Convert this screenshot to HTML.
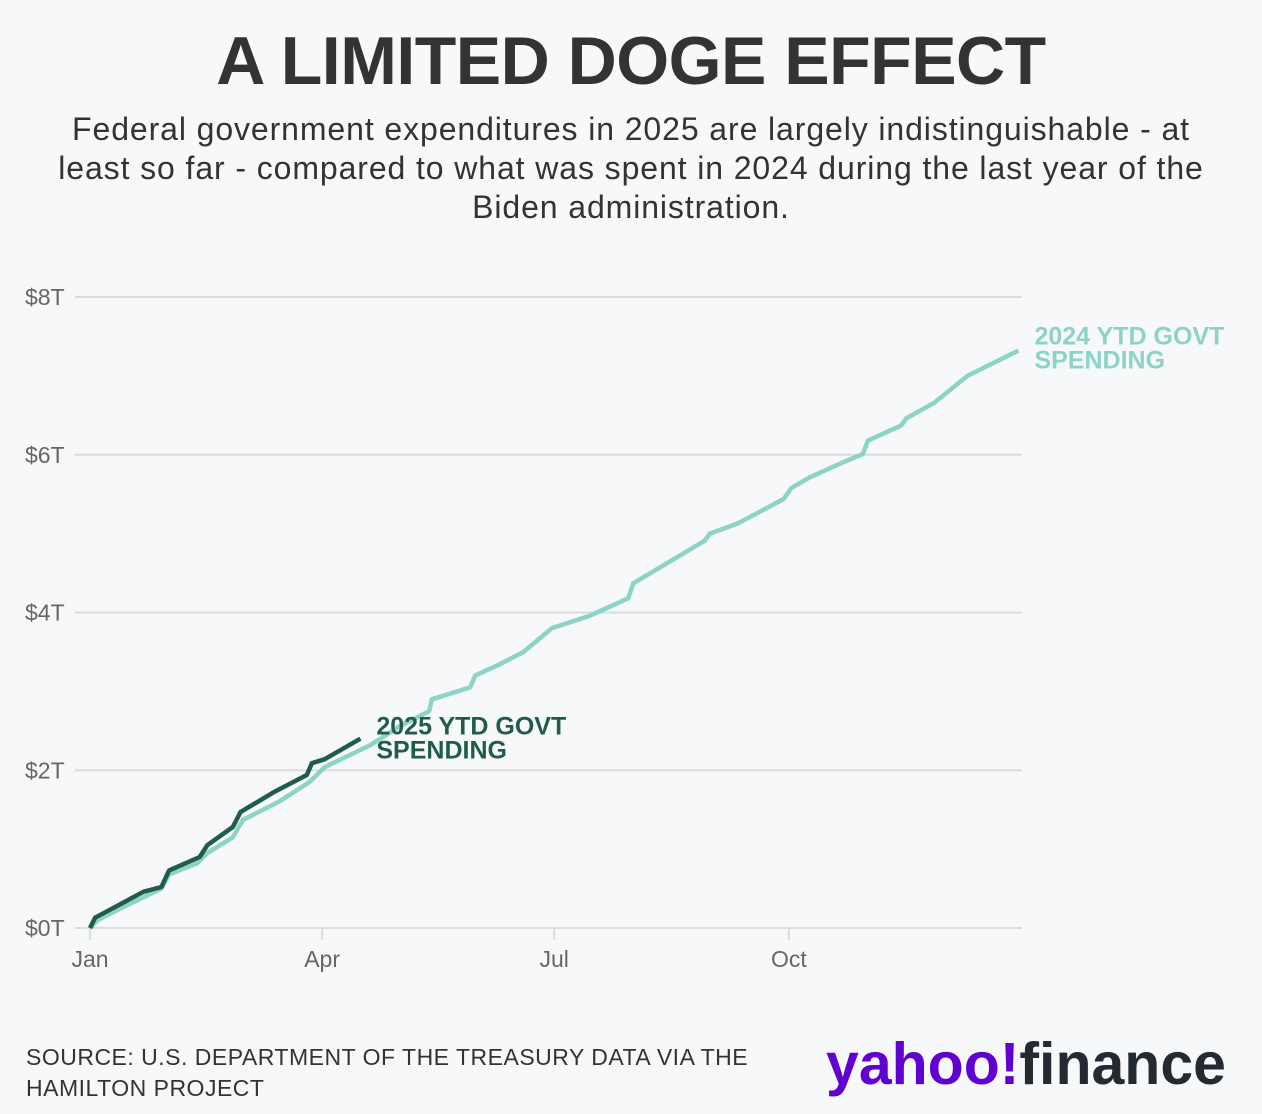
<!DOCTYPE html>
<html><head><meta charset="utf-8">
<style>
html,body{margin:0;padding:0;background:#f6f8fa;}
body{width:1262px;height:1114px;position:relative;overflow:hidden;font-family:"Liberation Sans",sans-serif;}
#title{position:absolute;left:0;width:1262px;top:22px;text-align:center;font-weight:bold;font-size:68px;color:#333;letter-spacing:-0.5px;}
#subtitle{position:absolute;left:46px;width:1170px;top:110px;text-align:center;font-size:32px;line-height:39px;color:#333;letter-spacing:0.9px;}
#source{position:absolute;left:26px;top:1042px;font-size:23px;line-height:31px;color:#333;letter-spacing:0.5px;}
#logo{position:absolute;left:826px;top:1030px;font-size:59px;font-weight:bold;letter-spacing:0px;}
svg{position:absolute;left:0;top:0;}
</style></head><body>
<div id="title">A LIMITED DOGE EFFECT</div>
<div id="subtitle">Federal government expenditures in 2025 are largely indistinguishable - at least so far - compared to what was spent in 2024 during the last year of the Biden administration.</div>
<div id="source">SOURCE: U.S. DEPARTMENT OF THE TREASURY DATA VIA THE<br>HAMILTON PROJECT</div>
<div id="logo"><span style="color:#6001d2">yahoo!</span><span style="color:#232a31">finance</span></div>
<svg id="chart" width="1262" height="1114"></svg>
<script>
const yTicks = [0, 2, 4, 6, 8];
const yTickLabels = ["$0T", "$2T", "$4T", "$6T", "$8T"];
const xTickDays = [0, 91, 182, 274];
const xTickLabels = ["Jan", "Apr", "Jul", "Oct"];
const days2024 = [0,3,14,28,31,42,46,56,60,74,86,92,110,121,133,134,149,151,161,170,181,196,211,213,226,241,243,254,272,275,282,295,303,305,318,320,331,344,364];
const vals2024 = [0,0.1,0.28,0.5,0.68,0.82,0.95,1.15,1.37,1.6,1.85,2.04,2.32,2.55,2.75,2.9,3.05,3.2,3.35,3.5,3.8,3.96,4.18,4.37,4.62,4.91,5.0,5.13,5.44,5.58,5.71,5.9,6.01,6.18,6.37,6.46,6.66,7.0,7.32];
const days2025 = [0,2,21,28,31,43,46,56,59,72,85,87,92,106];
const vals2025 = [0,0.13,0.46,0.52,0.73,0.9,1.05,1.28,1.47,1.72,1.94,2.09,2.14,2.4];

const NS = "http://www.w3.org/2000/svg";
const svg = document.getElementById("chart");
const x = d => 90 + d * (1021 - 90) / 365;
const y = v => 928 - v * (928 - 297) / 8;
function mk(tag, attrs){ const e = document.createElementNS(NS, tag); for (const k in attrs) e.setAttribute(k, attrs[k]); svg.appendChild(e); return e; }

yTicks.forEach((t, i) => {
  const g = mk("line", {x1:75, x2:1022, y1:y(t), y2:y(t), stroke:"#dcdcdc", "stroke-width":2});
  
  
  const l = mk("text", {x:25, y:y(t)+8, "font-size":23, fill:"#666", "font-family":"Liberation Sans Narrow, Liberation Sans, sans-serif"});
  l.textContent = yTickLabels[i];
  
  
});
xTickDays.forEach((d, i) => {
  const t = mk("line", {x1:x(d), x2:x(d), y1:928, y2:940, stroke:"#dcdcdc", "stroke-width":2});
  
  
  const l = mk("text", {x:x(d), y:967, "font-size":23, fill:"#666", "text-anchor":"middle", "font-family":"Liberation Sans Narrow, Liberation Sans, sans-serif"});
  l.textContent = xTickLabels[i];
  
  
});
function path(days, vals){ return days.map((d,i)=>(i?"L":"M")+x(d).toFixed(1)+","+y(vals[i]).toFixed(1)).join(""); }
const p24 = mk("path", {d:path(days2024, vals2024), fill:"none", stroke:"#8dd3c7", "stroke-width":4.5, "stroke-linejoin":"round"});


const p25 = mk("path", {d:path(days2025, vals2025), fill:"none", stroke:"#215c4b", "stroke-width":4.5, "stroke-linejoin":"round"});



function label(lines, xx, yy, color, name){
  lines.forEach((s, i) => {
    const t = mk("text", {x:xx, y:yy + i*24, "font-size":25, "font-weight":"bold", fill:color, "font-family":"Liberation Sans Narrow, Liberation Sans, sans-serif"});
    t.textContent = s;
    
    
  });
}
const last24 = days2024.length - 1, last25 = days2025.length - 1;
label(["2024 YTD GOVT", "SPENDING"], x(days2024[last24]) + 16, y(vals2024[last24]) - 6, "#8dd3c7", "label-2024");
label(["2025 YTD GOVT", "SPENDING"], x(days2025[last25]) + 16, y(vals2025[last25]) - 4, "#215c4b", "label-2025");
</script>
</body></html>
